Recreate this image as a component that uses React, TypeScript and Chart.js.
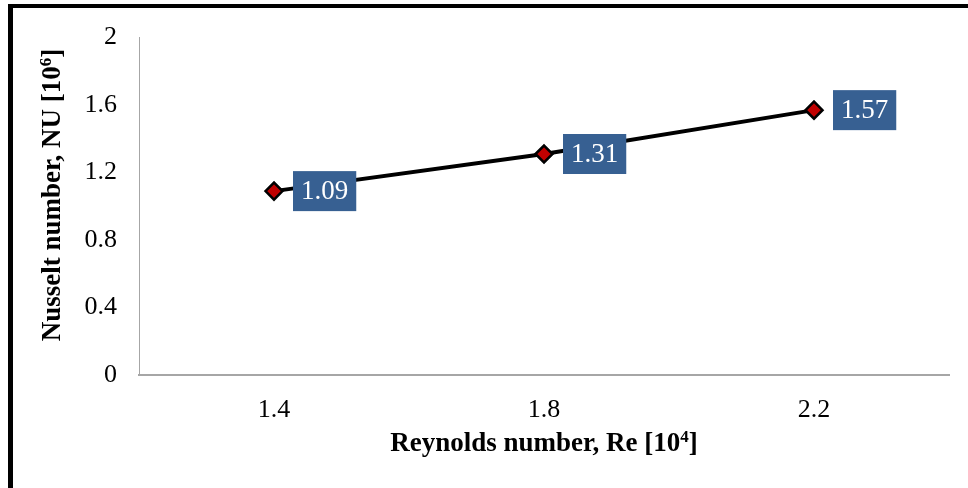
import React, { useEffect, useRef } from 'react';
import { Chart, registerables } from 'chart.js';

Chart.register(...registerables);

const categories: string[] = ['1.4', '1.8', '2.2'];
const nusseltValues: number[] = [1.09, 1.31, 1.57];
const yTickValues: number[] = [0, 0.4, 0.8, 1.2, 1.6, 2];
const xTitleMain = 'Reynolds number, Re [10';
const xTitleSup = '4';
const yTitleMain = 'Nusselt number, NU [10';
const yTitleSup = '6';

const SERIF = '"Liberation Serif", "Times New Roman", serif';

function drawSupTitle(ctx: CanvasRenderingContext2D, main: string, sup: string, cx: number, cy: number) {
  const mainFont = `bold 27px ${SERIF}`;
  const supFont = `bold 17px ${SERIF}`;
  ctx.font = mainFont;
  const w1 = ctx.measureText(main).width;
  const w3 = ctx.measureText(']').width;
  ctx.font = supFont;
  const w2 = ctx.measureText(sup).width;
  const total = w1 + w2 + w3;
  let x = cx - total / 2;
  ctx.textBaseline = 'alphabetic';
  ctx.textAlign = 'left';
  ctx.fillStyle = '#000';
  const base = cy + 9;
  ctx.font = mainFont;
  ctx.fillText(main, x, base);
  x += w1;
  ctx.font = supFont;
  ctx.fillText(sup, x, base - 9);
  x += w2;
  ctx.font = mainFont;
  ctx.fillText(']', x, base);
}

const titlesPlugin = {
  id: 'customTitles',
  afterDraw(chart: any) {
    const ctx = chart.ctx as CanvasRenderingContext2D;
    const area = chart.chartArea;
    ctx.save();
    drawSupTitle(ctx, xTitleMain, xTitleSup, (area.left + area.right) / 2, 442);
    ctx.translate(51, 195);
    ctx.rotate(-Math.PI / 2);
    drawSupTitle(ctx, yTitleMain, yTitleSup, 0, 0);
    ctx.restore();
  },
};

const labelsPlugin = {
  id: 'boxLabels',
  afterDatasetsDraw(chart: any) {
    const ctx = chart.ctx as CanvasRenderingContext2D;
    const meta = chart.getDatasetMeta(0);
    const data = chart.data.datasets[0].data as number[];
    ctx.save();
    ctx.font = `27px ${SERIF}`;
    meta.data.forEach((pt: any, i: number) => {
      const txt = data[i].toFixed(2);
      const tw = ctx.measureText(txt).width;
      const bw = tw + 16;
      const bh = 40;
      const bx = pt.x + 19;
      const by = pt.y - bh / 2;
      ctx.fillStyle = '#376092';
      ctx.fillRect(bx, by, bw, bh);
      ctx.fillStyle = '#ffffff';
      ctx.textAlign = 'left';
      ctx.textBaseline = 'middle';
      ctx.fillText(txt, bx + 8, pt.y + 1);
    });
    ctx.restore();
  },
};

export default function App() {
  const canvasRef = useRef<HTMLCanvasElement | null>(null);

  useEffect(() => {
    if (!canvasRef.current) return;
    const chart = new Chart(canvasRef.current, {
      type: 'line',
      data: {
        labels: categories,
        datasets: [
          {
            data: nusseltValues,
            borderColor: '#000000',
            borderWidth: 4,
            pointStyle: 'rectRot',
            pointRadius: 8.5,
            pointBackgroundColor: '#C00000',
            pointBorderColor: '#000000',
            pointBorderWidth: 2.5,
            tension: 0,
          },
        ],
      },
      options: {
        animation: false,
        responsive: false,
        devicePixelRatio: 1,
        layout: { padding: { top: 35, right: 19, left: 0, bottom: 0 } },
        plugins: {
          legend: { display: false },
          tooltip: { enabled: false },
        },
        scales: {
          x: {
            type: 'category',
            offset: true,
            grid: { display: false, drawTicks: false },
            border: { display: true, color: '#a6a6a6', width: 2 },
            ticks: {
              padding: 20,
              color: '#000',
              font: { family: SERIF, size: 26 },
            },
            afterFit: (s: any) => {
              s.height = 113;
            },
          },
          y: {
            min: 0,
            max: 2,
            grid: { display: false, drawTicks: false },
            border: { display: true, color: '#a6a6a6', width: 1 },
            afterBuildTicks: (s: any) => {
              s.ticks = yTickValues.map((v) => ({ value: v }));
            },
            ticks: {
              padding: 22,
              color: '#000',
              font: { family: SERIF, size: 26 },
              callback: (v: any) => String(Number(Number(v).toFixed(1))),
            },
            afterFit: (s: any) => {
              s.width = 139;
            },
          },
        },
      },
      plugins: [labelsPlugin, titlesPlugin],
    });
    return () => chart.destroy();
  }, []);

  return (
    <div style={{ position: 'fixed', left: 0, top: 0, width: 968, height: 488, background: '#fff', overflow: 'hidden' }}>
      <canvas ref={canvasRef} width={968} height={488} style={{ position: 'absolute', left: 0, top: 0, width: 968, height: 488 }} />
      <div
        style={{
          position: 'absolute',
          left: 8,
          top: 4,
          width: 980,
          height: 500,
          borderTop: '4px solid #000',
          borderLeft: '5px solid #000',
          boxSizing: 'border-box',
          pointerEvents: 'none',
        }}
      />
    </div>
  );
}
